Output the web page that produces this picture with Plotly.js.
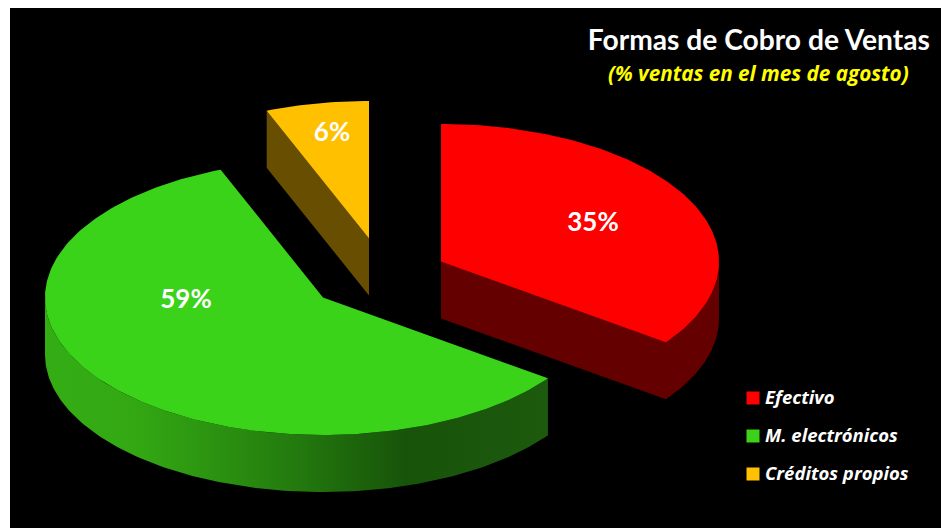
<!DOCTYPE html>
<html>
<head>
<meta charset="utf-8">
<script src="https://cdn.plot.ly/plotly-3.0.1.min.js"></script>
<style>html,body{margin:0;padding:0;background:#fff;overflow:hidden}#chart{width:941px;height:528px}</style>
</head>
<body>
<div id="chart"></div>
<script>
// Data
var categories = ["Efectivo", "M. electrónicos", "Créditos propios"];
var shares = [35, 59, 6];
var labels = ["35%", "59%", "6%"];

// Styles and layout geometry (plot units are pixels of the picture)
var topColors = ["#ff0000", "#3ad31a", "#ffc000"];
var sideColors = ["#640000", "#1d5a0e", "#674e00"];
var sliceCenterX = [441, 323, 369];
var sliceCenterY = [261.5, 297.5, 238.5];
var labelX = [593, 186, 332];
var labelY = [224, 301, 134.5];
var legendX = [753, 753, 753];
var legendY = [398, 436, 474];
var legendTextX = 762.5;
var radiusX = 278, radiusY = 137.5, depth = 57;
var font = "Lato, Carlito, 'Open Sans', sans-serif";
var wideFont = "'Open Sans', Lato, sans-serif";

function pt(i, deg, dy) {
  var r = deg * Math.PI / 180;
  return [sliceCenterX[i] + radiusX * Math.sin(r), sliceCenterY[i] - radiusY * Math.cos(r) + (dy || 0)];
}
function arc(i, from, to, dy) {
  var out = [], n = Math.max(2, Math.ceil(Math.abs(to - from)));
  for (var k = 0; k <= n; k++) out.push(pt(i, from + (to - from) * k / n, dy));
  return out;
}
function poly(points, color, extra) {
  var tr = {
    type: "scatter", mode: "lines", fill: "toself", fillcolor: color,
    x: points.map(function (p) { return p[0]; }),
    y: points.map(function (p) { return p[1]; }),
    line: { width: 0 }, hoverinfo: "skip", showlegend: false
  };
  for (var k in extra) tr[k] = extra[k];
  return tr;
}

// Angular extent of each slice, from the values
var total = shares.reduce(function (a, b) { return a + b; }, 0);
var starts = [], ends = [], acc = 0;
shares.forEach(function (v) { starts.push(acc / total * 360); acc += v; ends.push(acc / total * 360); });

var traces = [];
var c0 = [sliceCenterX[0], sliceCenterY[0]], c2 = [sliceCenterX[2], sliceCenterY[2]];

// Red: cut face and rim
traces.push(poly(
  [c0, [c0[0], c0[1] + depth]]
    .concat(arc(0, ends[0], 90, depth))
    .concat([pt(0, 90), c0]),
  sideColors[0]));
// Green: rim with a left-to-right shade
traces.push(poly(
  arc(1, starts[1], 270, 0).concat(arc(1, 270, starts[1], depth)),
  sideColors[1],
  { fillgradient: { type: "horizontal", colorscale: [
      [0, "#34ad15"], [0.18, "#33a813"], [0.32, "#2c9511"], [0.5, "#237a0e"],
      [0.62, "#1c640b"], [0.72, "#17540a"], [1, "#1d5a0e"] ] } }));
// Yellow: cut face
traces.push(poly(
  [pt(2, starts[2]), pt(2, starts[2], depth), [c2[0], c2[1] + depth], c2],
  sideColors[2]));
// Top faces
[0, 1, 2].forEach(function (i) {
  var c = [sliceCenterX[i], sliceCenterY[i]];
  traces.push(poly([c].concat(arc(i, starts[i], ends[i], 0)).concat([c]), topColors[i], { name: categories[i] }));
});
// Slice value labels
traces.push({
  type: "scatter", mode: "text", x: labelX, y: labelY, text: labels, textposition: "middle center",
  textfont: { family: font, size: 26, color: "#ffffff", weight: 700 }, hoverinfo: "skip", showlegend: false
});
// Key
traces.push({
  type: "scatter", mode: "markers", x: legendX, y: legendY,
  marker: { symbol: "square", size: 13, color: topColors, line: { width: 0 } },
  hoverinfo: "skip", showlegend: false
});

var annotations = categories.map(function (name, i) {
  return { xref: "x", yref: "y", x: legendTextX, y: legendY[i] - 1.5, text: "<b><i>" + name + "</i></b>",
    showarrow: false, xanchor: "left", yanchor: "middle",
    font: { family: wideFont, size: 18.5, color: "#ffffff" } };
});
annotations.push({ xref: "x", yref: "y", x: 911, y: 72.5, text: "<b><i>(% ventas en el mes de agosto)</i></b>",
  showarrow: false, xanchor: "right", yanchor: "middle",
  font: { family: wideFont, size: 20.7, color: "#ffff00" } });

var layout = {
  width: 941, height: 528,
  margin: { l: 10, r: 0, t: 8, b: 0, pad: 0 },
  paper_bgcolor: "#ffffff", plot_bgcolor: "#000000",
  title: { text: "<b>Formas de Cobro de Ventas</b>", x: 930 / 941, xanchor: "right", xref: "container",
    y: 1 - 40 / 528, yanchor: "middle", yref: "container",
    font: { family: font, size: 28.2, color: "#ffffff" } },
  xaxis: { range: [10, 941], visible: false, fixedrange: true },
  yaxis: { range: [528, 8], visible: false, fixedrange: true },
  showlegend: false,
  annotations: annotations
};
Plotly.newPlot("chart", traces, layout, { displayModeBar: false, staticPlot: true });
</script>
</body>
</html>
